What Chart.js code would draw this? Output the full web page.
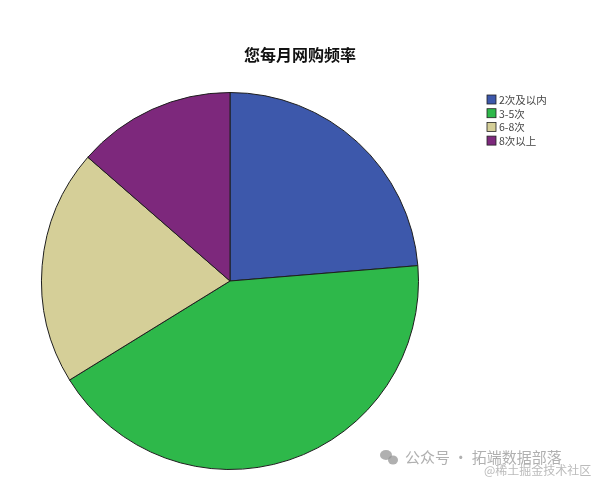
<!DOCTYPE html>
<html>
<head>
<meta charset="utf-8">
<script src="https://cdn.jsdelivr.net/npm/chart.js@4/dist/chart.umd.min.js"></script>
<style>
  html, body { margin: 0; padding: 0; background: #fff; }
  #wrap { width: 600px; height: 480px; position: relative; }
</style>
</head>
<body>
<div id="wrap"><canvas id="pie" width="600" height="480"></canvas></div>
<script>
// 数据
var categories = ['2次及以内', '3-5次', '6-8次', '8次以上'];
var values = [23.7, 42.5, 20.2, 13.6];
var colors = ['#3d58ab', '#2eb84a', '#d5cf98', '#7d287c'];
var chartTitle = '您每月网购频率';

// 标题、图例和水印
var decor = {
    id: 'decor',
    afterDraw: function (chart) {
        var c = chart.ctx;
        c.save();
        c.fillStyle = '#111';
        c.font = 'bold 16px "Noto Sans CJK SC"';
        c.textAlign = 'center';
        c.textBaseline = 'middle';
        c.fillText(chartTitle, 300, 55);

        c.textAlign = 'left';
        c.font = '10.5px "Noto Sans CJK SC"';
        for (var i = 0; i < categories.length; i++) {
            var y = 99.5 + i * 13.7;
            c.fillStyle = colors[i];
            c.fillRect(487, y - 4.5, 9, 9);
            c.strokeStyle = '#222';
            c.lineWidth = 0.8;
            c.strokeRect(487, y - 4.5, 9, 9);
            c.fillStyle = '#444';
            c.fillText(categories[i], 499, y + 0.5);
        }

        // 水印
        c.fillStyle = 'rgba(150,150,150,0.75)';
        c.beginPath();
        c.ellipse(386, 455, 6, 5, 0, 0, Math.PI * 2);
        c.fill();
        c.beginPath();
        c.ellipse(393, 460, 5, 4.5, 0, 0, Math.PI * 2);
        c.fill();
        c.font = '15px "Noto Sans CJK SC"';
        c.fillText('公众号 · 拓端数据部落', 405, 457);
        c.fillStyle = 'rgba(170,170,170,0.8)';
        c.font = '12px "Noto Sans CJK SC"';
        c.fillText('@稀土掘金技术社区', 484, 470);
        c.restore();
    }
};

var ctx = document.getElementById('pie').getContext('2d');
var chart = new Chart(ctx, {
    type: 'pie',
    data: {
        labels: categories,
        datasets: [{
            data: values,
            backgroundColor: colors,
            borderColor: '#1e1e1e',
            borderWidth: 1
        }]
    },
    options: {
        responsive: false,
        animation: false,
        layout: { padding: { left: 41, right: 181, top: 92, bottom: 10 } },
        plugins: {
            legend: { display: false },
            title: { display: false },
            tooltip: { enabled: false }
        }
    },
    plugins: [decor]
});
</script>
</body>
</html>
